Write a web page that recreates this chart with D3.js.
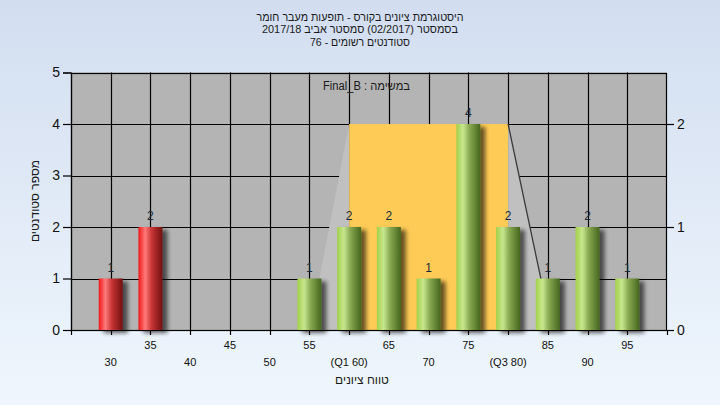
<!DOCTYPE html>
<html><head><meta charset="utf-8">
<script src="https://cdn.jsdelivr.net/npm/d3@7"></script>
<style>
html,body{margin:0;padding:0;width:720px;height:405px;overflow:hidden;}
svg{display:block;font-family:"Liberation Sans","DejaVu Sans",Arial,sans-serif;}
.rtl{direction:rtl;unicode-bidi:embed;}
</style></head><body>
<svg id="c" width="720" height="405"></svg>
<script>
// ---- data ----
const categories = [30,35,40,45,50,55,60,65,70,75,80,85,90,95];
const counts     = [1, 2, 0, 0, 0, 1, 2, 2, 1, 4, 2, 1, 2, 1];
const tickLabels = ["30","35","40","45","50","55","(Q1 60)","65","70","75","(Q3 80)","85","90","95"];
const passGrade = 55;
const q1 = 60, q3 = 80, boxTop = 4;
const whiskerLow = 55, whiskerHigh = 85.5;
const yTicks = [0,1,2,3,4,5];
const rightTicks = [0,1,2];
const titleLines = ["היסטוגרמת ציונים בקורס - תופעות מעבר חומר","בסמסטר  (02/2017)  סמסטר אביב 2017/18","סטודנטים רשומים - 76"];
const subTitle = "במשימה : Final_B";
const xTitle = "טווח ציונים";
const yTitle = "מספר סטודנטים";

const RLE = "\u202B", PDF = "\u202C";
const rtl = t => RLE + t + PDF;

const svg = d3.select("#c");
const defs = svg.append("defs");
const bg = defs.append("linearGradient").attr("id","bg").attr("x1",0).attr("y1",0).attr("x2",0).attr("y2",1);
bg.append("stop").attr("offset","0").attr("stop-color","#d2def0");
bg.append("stop").attr("offset","1").attr("stop-color","#eff6fd");
function barGrad(id, stops){
  const g = defs.append("linearGradient").attr("id",id).attr("x1",0).attr("y1",0).attr("x2",1).attr("y2",0);
  stops.forEach(s=>g.append("stop").attr("offset",s[0]).attr("stop-color",s[1]));
}
barGrad("red",[[0,"#f01818"],[0.28,"#ff7a7a"],[0.55,"#c83434"],[1,"#701010"]]);
barGrad("green",[[0,"#a2d04a"],[0.28,"#c8e68e"],[0.55,"#88a850"],[1,"#46661f"]]);
const f = defs.append("filter").attr("id","sh").attr("x","-20%").attr("y","-10%").attr("width","160%").attr("height","130%");
f.append("feGaussianBlur").attr("in","SourceAlpha").attr("stdDeviation",2).attr("result","b");
f.append("feOffset").attr("in","b").attr("dx",5).attr("dy",3).attr("result","o");
f.append("feComponentTransfer").attr("in","o").attr("result","o2").append("feFuncA").attr("type","linear").attr("slope",0.6);
const fm = f.append("feMerge");
fm.append("feMergeNode").attr("in","o2");
fm.append("feMergeNode").attr("in","SourceGraphic");

svg.append("rect").attr("width",720).attr("height",405).attr("fill","url(#bg)");

const L=71, R=667, T=72.5, B=330;
const x = d3.scaleLinear().domain([25,100]).range([L,R]);
const y = d3.scaleLinear().domain([0,5]).range([B,T]);
const yR = d3.scaleLinear().domain([0,2.5]).range([B,T]);

// plot bg
svg.append("rect").attr("x",L).attr("y",T).attr("width",R-L).attr("height",B-T).attr("fill","#b4b4b4");
// grid
const grid = svg.append("g").attr("stroke","#000").attr("stroke-width",1.2);
categories.forEach(c=>grid.append("line").attr("x1",Math.round(x(c))+0.5).attr("x2",Math.round(x(c))+0.5).attr("y1",T).attr("y2",B));
yTicks.filter(v=>v>0&&v<5).forEach(v=>grid.append("line").attr("x1",L).attr("x2",R).attr("y1",Math.round(y(v))+0.5).attr("y2",Math.round(y(v))+0.5));

// box region
const box = svg.append("g");
box.append("path").attr("fill","#c0c0c0")
  .attr("d",d3.line()([[x(q1),y(boxTop)],[x(q1),y(0)],[x(whiskerLow),y(0)]]));
box.append("path").attr("fill","#c0c0c0")
  .attr("d",d3.line()([[x(q3),y(boxTop)],[x(q3),y(0)],[x(whiskerHigh),y(0)]]));
box.append("rect").attr("x",x(q1)).attr("y",y(boxTop)).attr("width",x(q3)-x(q1)).attr("height",y(0)-y(boxTop)).attr("fill","#fecb57");
box.append("line").attr("x1",x(q3)).attr("y1",y(boxTop)).attr("x2",x(whiskerHigh)).attr("y2",y(0)).attr("stroke","#3a3a3a").attr("stroke-width",1.3);

// frame
svg.append("rect").attr("x",L+0.5).attr("y",Math.round(T)+0.5).attr("width",R-L-1).attr("height",B-Math.round(T)).attr("fill","none").attr("stroke","#000").attr("stroke-width",1.2);

// bars
const bw = 24;
const bars = svg.append("g");
categories.forEach((c,i)=>{
  if(counts[i]<=0) return;
  bars.append("rect").attr("x",x(c)-bw/2).attr("y",y(counts[i])).attr("width",bw).attr("height",y(0)-y(counts[i]))
    .attr("fill",c<passGrade?"url(#red)":"url(#green)").attr("filter","url(#sh)");
  bars.append("text").attr("x",x(c)).attr("y",y(counts[i])-7).attr("text-anchor","middle")
    .attr("font-size",12).attr("fill","#1a2a3a").text(counts[i]);
});

// x axis line + ticks
svg.append("line").attr("x1",L).attr("x2",R+6).attr("y1",B+0.5).attr("y2",B+0.5).attr("stroke","#000").attr("stroke-width",1.2);
const xt = [25].concat(categories).concat([100]);
xt.forEach(v=>svg.append("line").attr("x1",Math.round(x(v))+0.5).attr("x2",Math.round(x(v))+0.5).attr("y1",B).attr("y2",B+5).attr("stroke","#000").attr("stroke-width",1.2));
categories.forEach((c,i)=>{
  svg.append("text").attr("x",x(c)).attr("y",i%2===1?349:366).attr("text-anchor","middle")
    .attr("font-size",11).attr("fill","#111").text(tickLabels[i]);
});

// left axis
const yAxis = svg.append("g").attr("transform",`translate(${L},0)`)
  .call(d3.axisLeft(y).tickValues(yTicks).tickSize(8).tickPadding(3).tickFormat(d3.format("d")));
yAxis.select(".domain").attr("stroke","#000").attr("stroke-width",1.2);
yAxis.selectAll(".tick line").attr("stroke","#000").attr("stroke-width",1.2);
yAxis.selectAll("text").attr("font-size",14).attr("fill","#111").attr("font-family","Liberation Sans, DejaVu Sans, sans-serif");

// right axis
const rAxis = svg.append("g").attr("transform",`translate(${R},0)`)
  .call(d3.axisRight(yR).tickValues(rightTicks).tickSize(7).tickPadding(3).tickFormat(d3.format("d")));
rAxis.select(".domain").remove();
rAxis.selectAll(".tick line").attr("stroke","#000").attr("stroke-width",1.2);
rAxis.selectAll("text").attr("font-size",14).attr("fill","#111").attr("font-family","Liberation Sans, DejaVu Sans, sans-serif");

// titles
const titleWidths = [207,196,100];
titleLines.forEach((t,i)=>{
  svg.append("text").attr("class","rtl").attr("x",360).attr("y",20.5+i*12.6).attr("text-anchor","middle")
    .attr("font-size",11).attr("fill","#1a1a1a")
    .attr("textLength",titleWidths[i]).attr("lengthAdjust","spacingAndGlyphs").text(rtl(t));
});
svg.append("text").attr("class","rtl").attr("x",366.5).attr("y",90).attr("text-anchor","middle")
  .attr("font-size",12).attr("fill","#1a1a1a")
  .attr("textLength",87).attr("lengthAdjust","spacingAndGlyphs").text(rtl(subTitle));
svg.append("text").attr("class","rtl").attr("x",362).attr("y",384).attr("text-anchor","middle")
  .attr("font-size",12).attr("fill","#1a1a1a").text(rtl(xTitle));
svg.append("text").attr("class","rtl").attr("transform","translate(39,201) rotate(-90)").attr("text-anchor","middle")
  .attr("font-size",12).attr("fill","#1a1a1a").text(rtl(yTitle));
</script>
</body></html>
